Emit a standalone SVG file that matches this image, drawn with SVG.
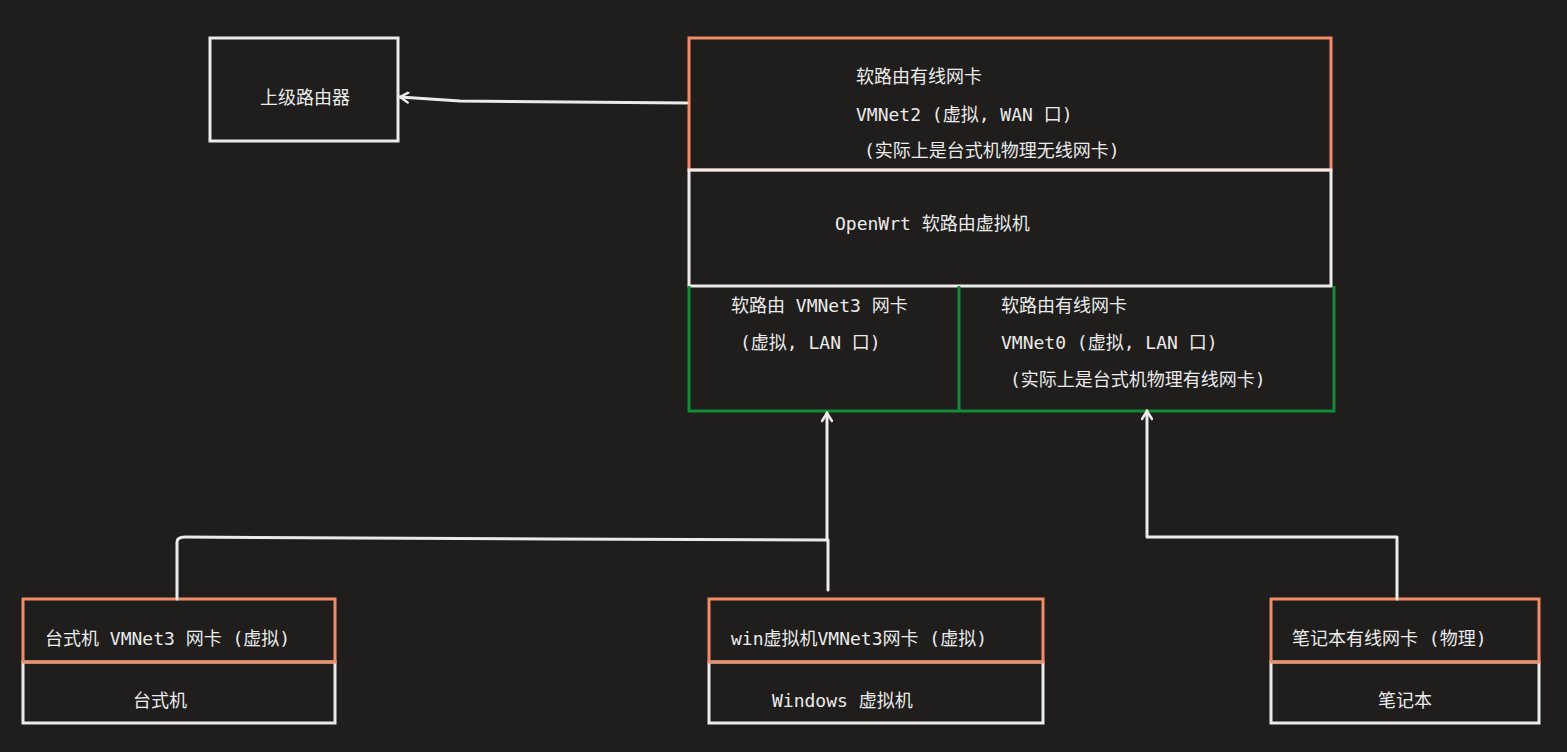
<svg xmlns="http://www.w3.org/2000/svg" width="1567" height="752" viewBox="0 0 1567 752">
<style>
.w{fill:none;stroke:#ebebeb;stroke-width:3}
.o{fill:none;stroke:#f28b68;stroke-width:3}
.g{fill:none;stroke:#138a36;stroke-width:3}
text{fill:#ebebeb;font-family:"DejaVu Sans Mono","Noto Sans CJK SC",monospace;font-size:18px}
.c{stroke:#ebebeb;stroke-width:3;fill:none;stroke-linecap:round;stroke-linejoin:round}
</style>
<defs><marker id="a" viewBox="0 0 12 12" refX="10" refY="6" markerWidth="12" markerHeight="12" markerUnits="userSpaceOnUse" orient="auto"><path d="M2,1 L10,6 L2,11" fill="none" stroke="#ebebeb" stroke-width="2.5" stroke-linecap="round"/></marker></defs>
<rect width="1567" height="752" fill="#1f1e1d"/>
<g id="upstream"><rect class="w" x="210" y="38" width="188" height="103"/><text x="305" y="104" text-anchor="middle">上级路由器</text></g>
<g id="wan"><rect class="o" x="689" y="38" width="642" height="132"/>
<text x="856" y="83">软路由有线网卡</text><text x="856" y="121">VMNet2 (虚拟, WAN 口)</text><text x="864" y="157">(实际上是台式机物理无线网卡)</text></g>
<g id="openwrt"><rect class="w" x="689" y="170" width="642" height="116"/><text x="835" y="230">OpenWrt 软路由虚拟机</text></g>
<g id="lan"><path class="g" d="M689,286 V411 H1334 V286 M959,286 V411"/>
<text x="731" y="312">软路由 VMNet3 网卡</text><text x="740" y="349">(虚拟, LAN 口)</text>
<text x="1001" y="312">软路由有线网卡</text><text x="1001" y="349">VMNet0 (虚拟, LAN 口)</text><text x="1010" y="386">(实际上是台式机物理有线网卡)</text></g>
<g id="desktop"><rect class="w" x="23" y="662" width="312" height="61"/><rect class="o" x="23" y="599" width="312" height="63"/>
<text x="45" y="645">台式机 VMNet3 网卡 (虚拟)</text><text x="160" y="707" text-anchor="middle">台式机</text></g>
<g id="winvm"><rect class="w" x="709" y="662" width="334" height="61"/><rect class="o" x="709" y="599" width="334" height="63"/>
<text x="731" y="645">win虚拟机VMNet3网卡 (虚拟)</text><text x="772" y="707">Windows 虚拟机</text></g>
<g id="laptop"><rect class="w" x="1271" y="662" width="268" height="61"/><rect class="o" x="1271" y="599" width="268" height="63"/>
<text x="1292" y="645">笔记本有线网卡 (物理)</text><text x="1405" y="707" text-anchor="middle">笔记本</text></g>
<g id="connectors">
<path class="c" d="M687,103 L460,101 L400,97" marker-end="url(#a)"/>
<path class="c" d="M177,599 V542 Q177,537 185,537 L550,539 L827,540 V413" marker-end="url(#a)"/>
<path class="c" d="M828,590 V540"/>
<path class="c" d="M1397,599 V537 H1147 V411" marker-end="url(#a)"/>
</g>
</svg>
